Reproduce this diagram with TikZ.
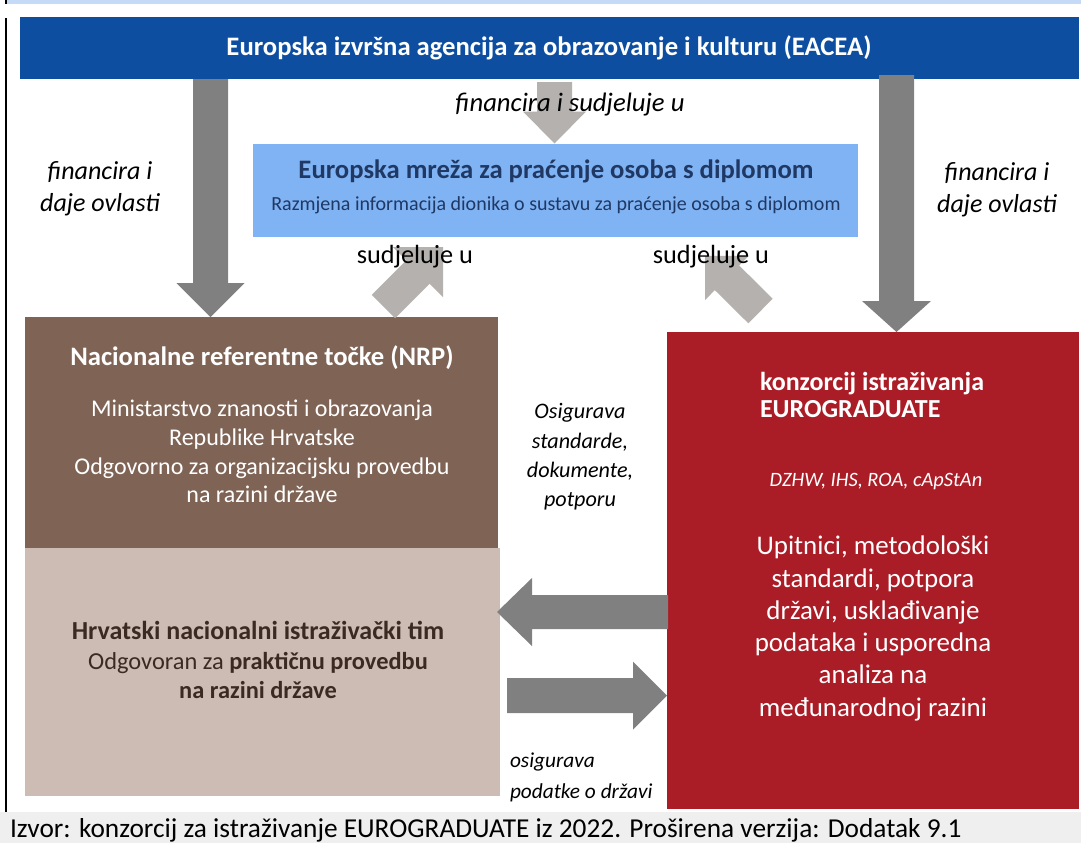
\documentclass[tikz,border=0pt]{standalone}
\usepackage{fontspec}
\setmainfont{Carlito}
\usetikzlibrary{calc}
\definecolor{topband}{HTML}{C5DAF6}
\definecolor{eacea}{HTML}{0D4EA1}
\definecolor{netblue}{HTML}{80B3F3}
\definecolor{navy}{HTML}{1F3864}
\definecolor{nrpbrown}{HTML}{7F6456}
\definecolor{teambeige}{HTML}{CDBCB3}
\definecolor{teamtext}{HTML}{3A2A22}
\definecolor{consred}{HTML}{AA1D27}
\definecolor{darkarrow}{HTML}{808080}
\definecolor{lightarrow}{HTML}{B4B1AF}
\definecolor{footgray}{HTML}{EFEFEF}
% block arrow: #1 fill, #2 from, #3 to, #4 shaft half width, #5 head half width, #6 head length
\newcommand\blockarrow[6]{%
  \coordinate (ba-h) at ($#3!#6!#2$);
  \fill[#1] ($#2!#4!90:#3$) -- ($(ba-h)!#4!90:#3$) -- ($(ba-h)!#5!90:#3$) -- #3
    -- ($(ba-h)!#5!-90:#3$) -- ($(ba-h)!#4!-90:#3$) -- ($#2!#4!-90:#3$) -- cycle;}
\tikzset{
  box/.style={draw=none, inner sep=0pt, outer sep=0pt},
  txt/.style={inner sep=0pt, outer sep=0pt, align=center},
}
\begin{document}
\begin{tikzpicture}[x=0.75pt,y=-0.75pt]
\useasboundingbox (0,0) rectangle (1081,843);
\fill[white] (0,0) rectangle (1081,843);
% frame decorations
\fill[topband] (7,0) rectangle (1081,4);
\fill[footgray] (0,812) rectangle (1081,843);
\fill[black] (5,0) rectangle (7,4);
\fill[black] (5,18) rectangle (7,812);
% boxes
\node[box, fill=eacea, minimum width=794.25pt, minimum height=46.5pt] (eacea) at (549.5,48) {};
\node[box, fill=netblue, minimum width=453.75pt, minimum height=69.75pt] (net) at (555.5,190.5) {};
\node[box, fill=nrpbrown, minimum width=354.75pt, minimum height=173.25pt] (nrp) at (261.5,432.5) {};
\node[box, fill=teambeige, minimum width=356.25pt, minimum height=186pt] (team) at (262.5,672) {};
\node[box, fill=consred, minimum width=309pt, minimum height=357.75pt] (cons) at (873,570.5) {};
% arrow end points
\coordinate (a1s) at (210.5,79);   \coordinate (a1e) at (210.5,317);
\coordinate (a2s) at (896.5,75);   \coordinate (a2e) at (896.5,332);
\coordinate (a3s) at (554.5,82);   \coordinate (a3e) at (554.5,143.5);
\coordinate (a4s) at (383.5,306.5); \coordinate (a4e) at (443,247);
\coordinate (a5s) at (760.5,311);  \coordinate (a5e) at (705,256);
\coordinate (a6s) at (668,612);    \coordinate (a6e) at (497,612);
\coordinate (a7s) at (507,695.5);  \coordinate (a7e) at (667,695.5);
\blockarrow{darkarrow}{(a1s)}{(a1e)}{13.125pt}{25.5pt}{25.5pt}
\blockarrow{darkarrow}{(a2s)}{(a2e)}{13.125pt}{25.875pt}{23.25pt}
\blockarrow{lightarrow}{(a3s)}{(a3e)}{13.125pt}{23.625pt}{24pt}
\blockarrow{lightarrow}{(a4s)}{(a4e)}{12.375pt}{26.55pt}{26.55pt}
\blockarrow{lightarrow}{(a5s)}{(a5e)}{12.975pt}{23.25pt}{23.25pt}
\blockarrow{darkarrow}{(a6s)}{(a6e)}{12.75pt}{25.5pt}{26.25pt}
\blockarrow{darkarrow}{(a7s)}{(a7e)}{13.125pt}{25.5pt}{25.5pt}
% texts
\node[txt, text=white, font=\fontsize{20}{24}\selectfont\bfseries] (teacea) at (549,48) {Europska izvršna agencija za obrazovanje i kulturu (EACEA)};
\node[txt, text=navy, font=\fontsize{20}{24}\selectfont\bfseries] (tnet) at (556,171) {Europska mreža za praćenje osoba s diplomom};
\node[txt, text=navy, font=\fontsize{15}{18}\selectfont] (tnetsub) at (556,205) {Razmjena informacija dionika o sustavu za praćenje osoba s diplomom};
\node[txt, font=\fontsize{20}{24}\selectfont\itshape] (lmid) at (570,105) {financira i sudjeluje u};
\node[txt, font=\fontsize{19.5}{24}\selectfont\itshape] (lleft) at (100,189) {financira i\\daje ovlasti};
\node[txt, font=\fontsize{19.5}{24}\selectfont\itshape] (lright) at (997,190) {financira i\\daje ovlasti};
\node[txt, font=\fontsize{19.7}{24}\selectfont] (lsud1) at (415,257) {sudjeluje u};
\node[txt, font=\fontsize{19.7}{24}\selectfont] (lsud2) at (711,257) {sudjeluje u};
\node[txt, text=white, font=\fontsize{20}{24}\selectfont\bfseries] (tnrp) at (262,358) {Nacionalne referentne točke (NRP)};
\node[txt, text=white, font=\fontsize{18}{21.4}\selectfont] (tnrpbody) at (262,451.5) {Ministarstvo znanosti i obrazovanja\\Republike Hrvatske\\Odgovorno za organizacijsku provedbu\\na razini države};
\node[txt, font=\fontsize{16.6}{22}\selectfont\itshape] (losig) at (580,457) {Osigurava\\standarde,\\dokumente,\\potporu};
\node[txt, text=white, align=left, anchor=west, font=\fontsize{19.5}{20.25}\selectfont\bfseries] (tcons) at (760,394.5) {konzorcij istraživanja\\EUROGRADUATE};
\node[txt, text=white, font=\fontsize{15.3}{18}\selectfont\itshape] (tconsmem) at (876,482) {DZHW, IHS, ROA, cApStAn};
\node[txt, text=white, font=\fontsize{20.2}{24.2}\selectfont] (tconsbody) at (873,628.5) {Upitnici, metodološki\\standardi, potpora\\državi, usklađivanje\\podataka i usporedna\\analiza na\\međunarodnoj razini};
\node[txt, text=teamtext, font=\fontsize{18.3}{22}\selectfont] (tteam) at (258,660) {\textbf{\fontsize{19.5}{22}\selectfont Hrvatski nacionalni istraživački tim}\\Odgovoran za \textbf{praktičnu provedbu}\\\textbf{na razini države}};
\node[txt, align=left, anchor=west, font=\fontsize{16}{23}\selectfont\itshape] (lpod) at (510,777.5) {osigurava\\podatke o državi};
\node[txt, anchor=west, font=\fontsize{20.5}{24}\selectfont] (foot) at (10,830) {Izvor: konzorcij za istraživanje EUROGRADUATE iz 2022. Proširena verzija: Dodatak 9.1};
\end{tikzpicture}
\end{document}
